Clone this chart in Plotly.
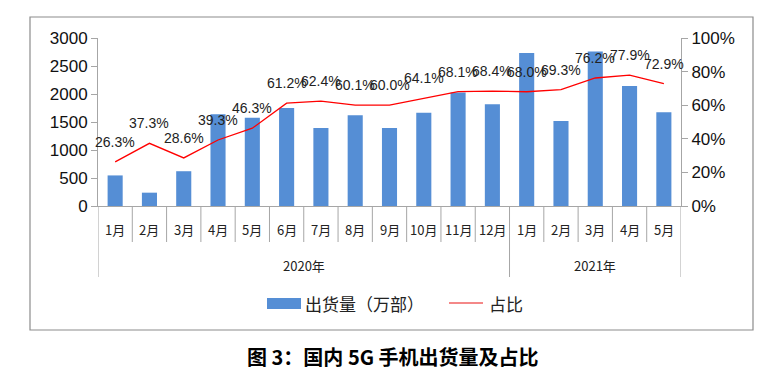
import plotly.graph_objects as go

# ---- data ----
months = ["1月", "2月", "3月", "4月", "5月", "6月", "7月", "8月", "9月", "10月", "11月", "12月",
          "1月", "2月", "3月", "4月", "5月"]
years = ["2020年", "2021年"]
year_counts = [12, 5]
shipments = [546, 238, 621, 1638, 1574, 1751, 1394, 1619, 1392, 1667, 2027, 1816,
             2734, 1517, 2760, 2144, 1673]
share_pct = [26.3, 37.3, 28.6, 39.3, 46.3, 61.2, 62.4, 60.1, 60.0, 64.1, 68.1, 68.4,
             68.0, 69.3, 76.2, 77.9, 72.9]
bar_name = "出货量（万部）"
line_name = "占比"
title_text = "图 3：国内 5G 手机出货量及占比"

# ---- layout geometry (pixels) ----
W, H = 782, 373
PL, PR, PT, PB = 98, 681, 38, 206
def px_x(p):
    return (p - PL) / (PR - PL)
def px_y(p):
    return (PB - p) / (PB - PT)

FONT = "Liberation Sans, Noto Sans CJK SC, sans-serif"
CJK = "Noto Sans CJK SC, sans-serif"
BAR_COLOR = "rgb(85,142,213)"
AXIS_COLOR = "#a6a6a6"

xs = list(range(len(months)))
share = [v / 100 for v in share_pct]

fig = go.Figure()
fig.add_trace(go.Bar(x=xs, y=shipments, marker=dict(color=BAR_COLOR, line=dict(width=0)),
                     width=0.44, name=bar_name, showlegend=False))
fig.add_trace(go.Scatter(x=xs, y=share, yaxis="y2", mode="lines", name=line_name,
                         line=dict(color="#ff0000", width=1.3), showlegend=False))

shapes = []
annotations = []

# data labels
for x, v, p in zip(xs, share, share_pct):
    annotations.append(dict(x=x, y=v, xref="x", yref="y2", text=f"{p:.1f}%", showarrow=False,
                            yshift=20, yanchor="middle",
                            font=dict(family=FONT, size=14, color="#222")))

# month labels and separators
for x, m in zip(xs, months):
    annotations.append(dict(x=x, y=px_y(229), xref="x", yref="paper", text=m, showarrow=False,
                            yanchor="middle", font=dict(family=CJK, size=13, color="#222")))
n = len(months)
group_edges = [-0.5]
acc = -0.5
for c in year_counts:
    acc += c
    group_edges.append(acc)
for i in range(n + 1):
    b = i - 0.5
    bottom = px_y(277) if b in group_edges else px_y(242)
    shapes.append(dict(type="line", xref="x", yref="paper", x0=b, x1=b, y0=0, y1=bottom,
                       line=dict(color=AXIS_COLOR, width=1)))
# year labels
for k, (yname, c) in enumerate(zip(years, year_counts)):
    center = (group_edges[k] + group_edges[k + 1]) / 2
    annotations.append(dict(x=center, y=px_y(265), xref="x", yref="paper", text=yname,
                            showarrow=False, yanchor="middle",
                            font=dict(family=CJK, size=13, color="#222")))

# outer border
shapes.append(dict(type="rect", xref="paper", yref="paper", x0=px_x(30), x1=px_x(753),
                   y0=px_y(330), y1=px_y(17), line=dict(color="#8c8c8c", width=1.2),
                   fillcolor="rgba(0,0,0,0)", layer="below"))

# custom legend
shapes.append(dict(type="rect", xref="paper", yref="paper", x0=px_x(267), x1=px_x(301),
                   y0=px_y(309), y1=px_y(298), fillcolor=BAR_COLOR, line=dict(width=0)))
annotations.append(dict(x=px_x(303), y=px_y(303), xref="paper", yref="paper", text=bar_name,
                        showarrow=False, xanchor="left", yanchor="middle",
                        font=dict(family=CJK, size=17, color="#222")))
shapes.append(dict(type="line", xref="paper", yref="paper", x0=px_x(449), x1=px_x(483),
                   y0=px_y(303), y1=px_y(303), line=dict(color="#f06060", width=1.5)))
annotations.append(dict(x=px_x(487), y=px_y(303), xref="paper", yref="paper", text=line_name,
                        showarrow=False, xanchor="left", yanchor="middle",
                        font=dict(family=CJK, size=17, color="#222")))

# title
annotations.append(dict(x=px_x(393), y=px_y(356), xref="paper", yref="paper",
                        text=f"<b>{title_text}</b>", showarrow=False, yanchor="middle",
                        font=dict(family=CJK, size=20, color="#000")))

fig.update_layout(
    width=W, height=H,
    margin=dict(l=PL, r=W - PR, t=PT, b=H - PB, pad=0),
    paper_bgcolor="white", plot_bgcolor="white",
    xaxis=dict(range=[-0.5, n - 0.5], showticklabels=False, showgrid=False, zeroline=False,
               showline=True, linecolor=AXIS_COLOR, linewidth=1, ticks=""),
    yaxis=dict(range=[0, 3000], dtick=500, showgrid=False, zeroline=False, showline=True,
               linecolor=AXIS_COLOR, linewidth=1, ticks="outside", ticklen=6,
               tickcolor=AXIS_COLOR, tickfont=dict(family=FONT, size=17, color="#111")),
    yaxis2=dict(range=[0, 1], dtick=0.2, tickformat=".0%", overlaying="y", side="right",
                showgrid=False, zeroline=False, showline=True, linecolor=AXIS_COLOR,
                linewidth=1, ticks="outside", ticklen=6, tickcolor=AXIS_COLOR,
                tickfont=dict(family=FONT, size=17, color="#111")),
    shapes=shapes, annotations=annotations, showlegend=False,
)

fig.write_html("out.html", config={"displayModeBar": False},
               post_script="document.body.style.margin='0';document.body.style.padding='0';")
